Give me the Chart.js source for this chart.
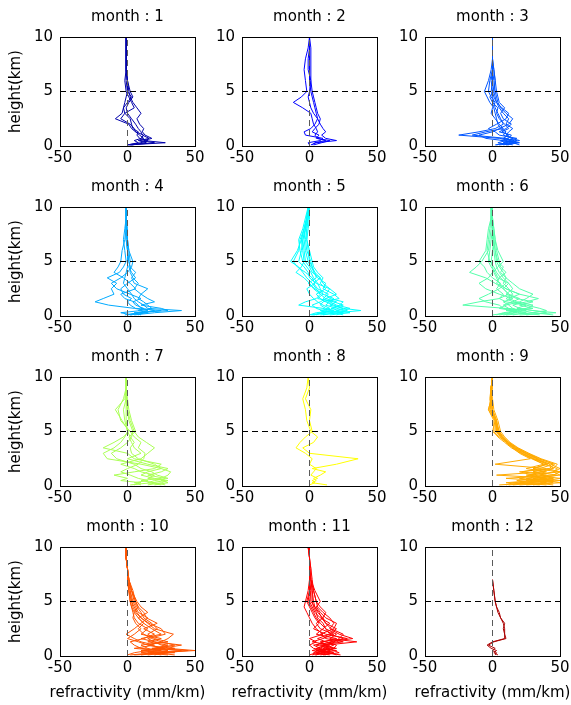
<!DOCTYPE html>
<html>
<head>
<meta charset="utf-8">
<title>Monthly refractivity gradient profiles</title>
<script src="https://cdn.jsdelivr.net/npm/chart.js@4.4.1/dist/chart.umd.min.js"></script>
<style>
  body { margin: 0; background: #fff; }
  #wrap { position: relative; width: 571px; height: 705px; overflow: hidden; background: #fff; }
  #wrap canvas { position: absolute; }
</style>
</head>
<body>
<div id="wrap"></div>
<script>
const heights = [0.1, 0.3, 0.5, 0.7, 1, 1.3, 1.6, 2, 2.5, 3, 3.5, 4, 4.5, 5, 6, 7, 8, 9, 10];

// refractivity gradient (mm/km) per profile, one row per sounding
const month1 = [
  [1, 28, 12, 18, 13, 11, 12, 9, 7, 10, 7, 4, 2, 1, 0, -1, -1, -1, -1],
  [3, 14, 8, 12, 9, 6, 3, 1, -9, -4, -3, -2, -1, 0, 0, -1, -1, -1, -1],
  [0, 10, 15, 9, 7, 8, 4, 3, 2, -2, -3, 0, 3, 0, -1, -1, -1, -1, -1],
  [2, 20, 9, 16, 11, 10, 8, 6, 3, 0, -1, 1, 4, 2, 0, -1, -1, -1, -1],
  [0, 8, 5, 10, 12, 6, 5, 2, -5, -2, 5, 3, 1, -1, -2, -1, -1, -1, -1]
];
const month2 = [
  [1, 5, 20, 12, 9, 12, 10, 8, 6, 5, 4, 3, 2, 1, 0, 0, 0, 0, 0],
  [2, 4, 12, 6, 4, 6, 5, 3, 2, 1, -5, -12, -6, -2, -3, -4, -3, -1, 0],
  [0, -1, 8, 10, -3, -4, 1, 4, 6, 3, 1, 0, -1, 0, 1, 1, 1, 1, 0],
  [3, 9, 15, 5, 7, 2, 4, 7, 8, 6, 5, 4, 3, 2, 1, -1, -1, 0, 0]
];
const month3 = [
  [20, 15, 18, 5, -25, -10, 2, 8, 6, 4, 2, 1, 0, -1, 0, 0, 0, 0, 0],
  [5, 18, 12, 15, 10, 12, 15, 10, 12, 8, 5, 3, 2, 1, 0, 0, 0, 0, 0],
  [10, 20, 8, -5, -10, 0, 5, 12, 15, 10, 6, 4, 3, 2, 1, 0, 0, 0, 0],
  [2, 12, 20, 14, 8, 10, 6, 4, 3, 2, 1, -2, -4, -6, -3, -1, 0, 0, 0],
  [15, 8, 14, 10, -15, -5, 8, 5, 2, -1, 0, 2, -1, -3, -2, 0, 0, 0, 0],
  [8, 16, 6, 12, 14, 5, 10, 14, 8, 6, 9, 5, 4, 3, 2, 1, 0, 0, 0],
  [12, 4, 10, 18, 5, 2, -3, 3, 10, 12, 7, 3, 1, 0, -1, 0, 0, 0, 0],
  [3, 10, 16, 8, 12, 7, 12, 9, 5, 3, 4, 0, -2, 1, 2, 1, 0, 0, 0]
];
const month4 = [
  [5, 20, 40, 15, 12, 8, 5, 3, 0, -3, -2, -1, 0, 0, 0, -1, -1, -1, -1],
  [0, 10, 15, 5, -14, -24, -18, -10, -12, -8, -15, -6, -3, -1, -2, -3, -2, -1, -1],
  [10, 5, 30, 25, 10, 20, 15, 10, 5, 8, 4, 2, 2, 1, 0, 0, 0, -1, -1],
  [2, 15, 8, 12, 6, 4, 10, 2, -8, -12, -5, 0, 3, 4, 1, 0, -1, -1, -1],
  [8, 12, 20, 10, 8, 5, -2, -5, 6, 2, -3, -10, -7, -5, -4, -2, -1, -1, -1],
  [3, -5, 10, 18, 15, 12, 8, 10, 15, 5, 3, 6, 2, 1, 0, -1, -1, -1, -1],
  [-2, 8, 25, 6, 2, 0, 3, -3, -5, 0, 6, 3, 1, 2, 1, 0, -1, -1, -1]
];
const month5 = [
  [10, 20, 38, 25, 15, 20, 12, 8, 5, 2, -2, -5, -8, -14, -9, -6, -4, -2, -1],
  [2, 15, 25, 30, 20, 15, 18, 10, 8, 6, 3, 1, -2, -5, -7, -8, -5, -3, -1],
  [5, 8, 12, 18, 22, 25, 15, 12, 15, 10, 8, 4, 1, -1, -3, -4, -3, -2, 0],
  [20, 25, 15, 10, -8, -3, 5, 8, 3, 0, -4, -10, -6, -4, -5, -6, -4, -2, -1],
  [0, 5, 18, 12, 8, 10, 22, 18, 10, 12, 6, 3, 2, 1, -2, -3, -2, -1, -1],
  [15, 30, 20, 25, 18, 12, 8, 5, 12, 8, 10, 6, 3, 2, 0, -2, -2, -1, 0],
  [3, 12, 8, 15, 10, 6, 3, 0, -2, 4, 2, -3, -9, -12, -8, -7, -4, -2, -1],
  [8, 22, 28, 20, 12, 15, 10, 14, 6, 3, 8, 2, 0, -3, -4, -5, -3, -2, -1],
  [25, 18, 10, 5, 2, 8, 12, 20, 15, 5, 0, -1, -4, -8, -6, -5, -3, -1, 0],
  [1, 10, 22, 16, 25, 18, 6, 10, 4, -1, 5, 4, 2, 0, -1, -2, -1, 0, 0]
];
const month6 = [
  [20, 47, 30, 20, 15, 25, 34, 20, 10, 5, 3, 1, 0, -1, 0, 1, 0, -1, -1],
  [5, 15, 25, 10, -22, -10, 5, 12, 8, 2, -5, -17, -12, -8, -3, -2, -1, -1, -1],
  [10, 30, 40, 35, 25, 15, 10, 15, 12, 8, 10, 6, 8, 4, 2, 1, 0, 0, -1],
  [0, 12, 18, 8, 5, -5, -10, -3, 5, 10, 6, 3, 1, -2, -4, -3, -2, -1, 0],
  [15, 25, 10, 30, 20, 30, 18, 10, 15, 12, 8, 5, 3, 2, 1, 0, 0, -1, -1],
  [35, 20, 15, 5, 10, 20, 25, 30, 20, 15, 10, 8, 5, 3, 2, 1, 0, 0, 0],
  [3, 8, 20, 15, 12, 8, 15, 5, -5, -10, -3, 0, 4, 8, 4, 2, 1, 0, -1],
  [25, 40, 30, 18, 25, 10, 5, 8, 3, 6, 0, -4, -6, -10, -5, -4, -3, -1, -1],
  [8, 18, 12, 25, 30, 18, 12, 20, 10, 3, 5, 10, 6, 5, 3, 2, 1, 0, 0],
  [45, 30, 22, 12, 8, 15, 20, 12, 8, 12, 4, 2, -1, -3, -2, -1, 0, 0, 0]
];
const month7 = [
  [28, 20, 10, 25, 30, 32, 25, 10, -15, -18, -10, -5, -2, 0, -1, -1, -1, -1, -1],
  [15, 25, 30, 15, 20, 10, 5, -5, 10, 15, 20, 14, 8, 5, 2, 0, -1, -1, -1],
  [5, 10, -5, 0, -10, 5, 20, 25, 5, 0, -18, -10, -3, 1, -4, -9, -2, -1, -1],
  [20, 30, 25, 28, 15, 25, 30, 15, 0, 10, 5, 3, 1, 6, 3, 1, 0, -1, -1],
  [10, 5, 15, 8, 2, -5, 0, 8, 12, 13, 8, 10, 5, 2, -5, -7, -3, -1, -1],
  [25, 15, 20, 30, 22, 18, 10, 5, -8, -12, -5, 0, 3, 4, 1, 0, -1, -1, -1],
  [2, 18, 28, 20, 10, 15, 25, 20, 8, 3, 2, 5, 2, 0, -2, -3, -1, -1, -1]
];
const month8 = [
  [13, 2, 5, 3, 8, 12, 2, 20, 36, 0, -5, 3, 6, 1, -2, -3, -5, -2, -1],
  [0, 4, 2, 6, 1, 3, 5, 0, 2, -3, -10, -7, -3, 2, 0, 1, -3, 0, -1]
];
const month9 = [
  [40, 20, 45, 30, 50, 45, 48, 38, 30, 22, 16, 11, 7, 4, 2, 0, -1, -1, 0],
  [5, 30, 25, 40, 28, 35, 45, 42, 33, 25, 18, 12, 8, 5, 3, -2, -1, -1, 0],
  [20, 45, 35, 10, 45, 50, 40, 2, 28, 20, 15, 10, 6, 3, 2, -1, -2, -1, 0],
  [10, 15, 40, 50, 30, 20, 45, 48, 36, 27, 19, 13, 9, 6, 4, 1, 0, -1, 0],
  [30, 40, 28, 45, 3, 38, 30, 40, 32, 24, 17, 11, 5, 0, 2, -3, -1, -1, 0],
  [15, 35, 50, 25, 40, 22, 35, 45, 35, 26, 18, 12, 8, 4, 3, 0, -1, 0, 0],
  [35, 10, 30, 45, 35, 45, 50, 43, 31, 23, 16, 10, 7, 5, 2, -2, -1, -1, 0],
  [25, 50, 40, 20, 30, 40, 25, 38, 29, 21, 14, 9, 4, 1, 1, -3, -1, -1, 0],
  [12, 28, 45, 35, 48, 30, 42, 46, 34, 25, 17, 12, 7, 3, 3, 0, -1, -1, 0],
  [45, 30, 18, 40, 25, 50, 30, 41, 30, 22, 15, 10, 6, 2, 2, -1, -1, -1, 0]
];
const month10 = [
  [2, 20, 50, 30, 15, 25, 30, 34, 20, 15, 10, 6, 4, 3, 1, 0, 0, -1, -1],
  [15, 30, 10, 25, 40, 20, 10, 25, 18, 12, 8, 5, 3, 2, 1, 0, 0, -1, -1],
  [30, 10, 25, 5, 20, 10, 5, -1, 5, 10, 15, 8, 6, 4, 2, 1, 0, -1, -1],
  [5, 35, 20, 15, 10, 30, 20, 15, 22, 18, 12, 10, 7, 5, 3, 1, 0, -1, -1],
  [25, 15, 40, 20, 30, 15, 25, 10, 15, 8, 5, 4, 3, 2, 1, 0, 0, -1, -1],
  [10, 25, 30, 10, 5, 2, 12, 20, 12, 22, 14, 12, 8, 6, 4, 1, 0, -1, -1],
  [0, 5, 15, 35, 25, 20, 15, 28, 25, 16, 10, 7, 5, 3, 2, 0, 0, -1, -1],
  [35, 20, 12, 28, 15, 8, 0, 5, 10, 6, 4, 5, 8, 6, 3, 1, 0, -1, -1],
  [20, 28, 45, 18, 35, 25, 18, 12, 8, 12, 8, 15, 10, 7, 3, 1, 0, -1, -1]
];
const month11 = [
  [5, 10, 15, 8, 12, 35, 15, 20, 12, 8, 5, 3, 1, -1, 0, 0, 0, 0, -1],
  [20, 15, 8, 18, 10, 20, 25, 15, 20, 12, 10, 6, 4, 3, 2, 1, 0, 0, 0],
  [0, 5, 12, 3, 0, 5, 0, 10, 5, 2, 0, -2, -4, -3, -1, 0, 0, 0, -1],
  [10, 22, 18, 12, 18, 15, 32, 22, 15, 18, 15, 10, 6, 5, 3, 1, 1, 0, 0],
  [15, 3, 6, 15, 5, 10, 20, 5, 10, 15, 8, 4, 2, 0, 1, 0, 0, 0, 0],
  [2, 8, 20, 10, 15, 2, 10, 18, 8, 5, 10, 12, 8, 5, 3, 2, 1, 0, 0],
  [23, 12, 5, 20, 8, 25, 12, 8, 18, 20, 12, 8, 5, 8, 4, 1, 0, 0, 0],
  [8, 18, 10, 5, 14, 8, 28, 12, 3, 7, 4, 2, 0, -2, 0, 0, 0, 0, -1],
  [12, 5, 15, 18, 20, 12, 6, 15, 12, 10, 6, 5, 3, 2, 2, 1, 0, 0, 0],
  [4, 15, 2, 8, 3, 18, 22, 25, 16, 12, 9, 7, 4, 1, 1, 0, 0, 0, 0]
];
const month12 = [
  [4, 1, 3, -1, -4, 0, 9, 9, 9, 8, 6, 4, 3, 2, 1, 0, null, null, null],
  [2, 3, 0, 2, -3, 1, 10, 9, 8, 9, 6, 5, 3, 2, 1, 0, null, null, null]
];

const months = [month1, month2, month3, month4, month5, month6,
  month7, month8, month9, month10, month11, month12];
// jet(12)
const colors = ["rgb(0,0,170)", "rgb(0,0,255)", "rgb(0,85,255)", "rgb(0,170,255)",
  "rgb(0,255,255)", "rgb(85,255,170)", "rgb(170,255,85)", "rgb(255,255,0)",
  "rgb(255,170,0)", "rgb(255,85,0)", "rgb(255,0,0)", "rgb(170,0,0)"];
const xTicks = [-50, 0, 50];
const yTicks = [0, 5, 10];
const refLevel = 5;

const FONT = "15px 'DejaVu Sans', sans-serif";
Chart.defaults.font.family = "'DejaVu Sans', sans-serif";
Chart.defaults.font.size = 15;
Chart.defaults.color = "#000";

// box round the plot area, panel title and axis labels (drawn without squeezing)
const frame = {
  id: "frame",
  afterDraw(chart, args, opts) {
    const { ctx, chartArea: a } = chart;
    const cx = (a.left + a.right) / 2;
    ctx.save();
    ctx.strokeStyle = "#000";
    ctx.lineWidth = 1;
    ctx.strokeRect(Math.round(a.left) + 0.5, Math.round(a.top) + 0.5,
      Math.round(a.width), Math.round(a.height));
    ctx.fillStyle = "#000";
    ctx.font = FONT;
    ctx.textAlign = "center";
    ctx.textBaseline = "middle";
    ctx.fillText(opts.text, cx, 17);
    if (opts.xLabel) ctx.fillText(opts.xLabel, cx, a.bottom + 37);
    if (opts.yLabel) {
      ctx.translate(16, (a.top + a.bottom) / 2);
      ctx.rotate(-Math.PI / 2);
      ctx.fillText(opts.yLabel, 0, 0);
    }
    ctx.restore();
  },
};

const wrap = document.getElementById("wrap");
const colLeft = [60, 242, 425];
const plotW = 135, plotH = 109, titleH = 37;

months.forEach((profiles, i) => {
  const row = Math.floor(i / 3), col = i % 3;
  const yW = col === 0 ? 60 : 50;
  const xH = row === 3 ? 54 : 24;
  const canvas = document.createElement("canvas");
  canvas.width = yW + plotW + 16;
  canvas.height = titleH + plotH + xH;
  canvas.style.left = (colLeft[col] - yW) + "px";
  canvas.style.top = (row * 170) + "px";
  wrap.appendChild(canvas);

  const datasets = profiles.map((p) => ({
    data: p.map((x, k) => ({ x, y: heights[k] })).filter((pt) => pt.x !== null),
    borderColor: colors[i],
    borderWidth: 1,
    pointRadius: 0,
    showLine: true,
    order: 2,
  }));
  datasets.push({
    data: [{ x: xTicks[0], y: refLevel }, { x: xTicks[2], y: refLevel }],
    borderColor: "#000",
    borderWidth: 1,
    borderDash: [6, 4],
    pointRadius: 0,
    showLine: true,
    order: 0,
  });
  datasets.push({
    data: [{ x: 0, y: yTicks[0] }, { x: 0, y: yTicks[2] }],
    borderColor: "#5a5a5a",
    borderWidth: 1,
    borderDash: [6, 4],
    pointRadius: 0,
    showLine: true,
    order: 1,
  });

  new Chart(canvas, {
    type: "scatter",
    data: { datasets },
    options: {
      responsive: false,
      animation: false,
      layout: { padding: { left: 0, right: 16, top: titleH, bottom: 0 } },
      plugins: {
        legend: { display: false },
        tooltip: { enabled: false },
        title: { display: false },
        frame: {
          text: "month : " + (i + 1),
          xLabel: row === 3 ? "refractivity (mm/km)" : "",
          yLabel: col === 0 ? "height(km)" : "",
        },
      },
      scales: {
        x: {
          type: "linear",
          min: xTicks[0],
          max: xTicks[2],
          afterBuildTicks: (s) => { s.ticks = xTicks.map((v) => ({ value: v })); },
          afterFit: (s) => { s.height = xH; },
          grid: { display: false, drawTicks: false },
          border: { display: false },
          ticks: { padding: 3, maxRotation: 0 },
        },
        y: {
          type: "linear",
          min: yTicks[0],
          max: yTicks[2],
          afterBuildTicks: (s) => { s.ticks = yTicks.map((v) => ({ value: v })); },
          afterFit: (s) => { s.width = yW; },
          grid: { display: false, drawTicks: false },
          border: { display: false },
          ticks: { padding: 7 },
        },
      },
    },
    plugins: [frame],
  });
});
</script>
</body>
</html>
